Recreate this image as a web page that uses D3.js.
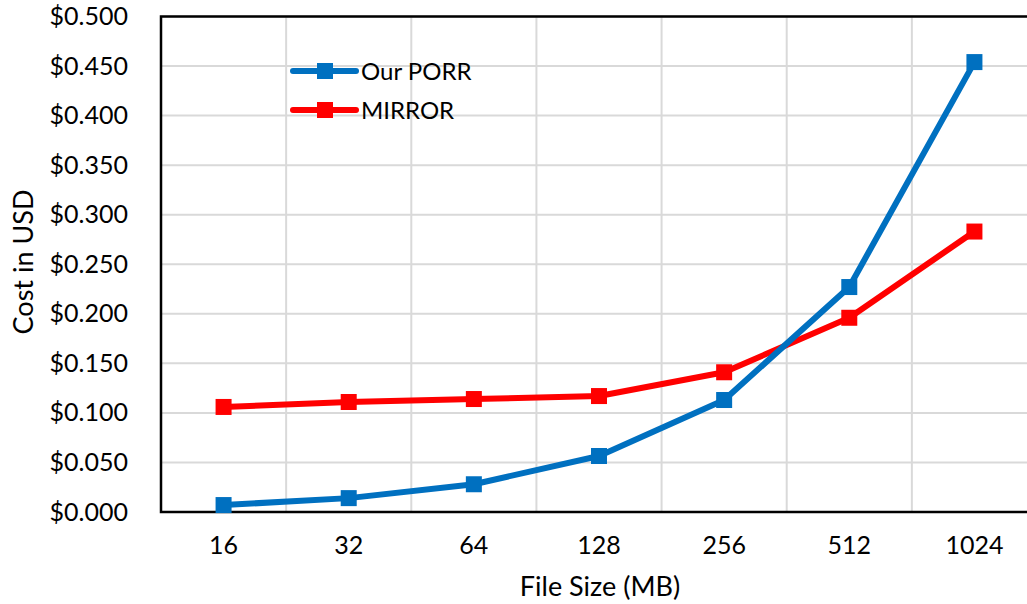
<!DOCTYPE html>
<html>
<head>
<meta charset="utf-8">
<script src="https://cdn.jsdelivr.net/npm/d3@7"></script>
<style>
  html, body { margin: 0; padding: 0; background: #fff; }
  svg { display: block; font-family: Lato, "Open Sans", sans-serif; }
</style>
</head>
<body>
<svg id="chart" width="1027" height="604"></svg>
<script>
// File sizes (MB) on the x axis
const categories = ["16", "32", "64", "128", "256", "512", "1024"];
// Cost in USD per file size
const porrValues = [0.007, 0.014, 0.028, 0.0565, 0.113, 0.227, 0.454];
const mirrorValues = [0.106, 0.111, 0.114, 0.117, 0.141, 0.196, 0.283];
const yTicks = [0, 0.05, 0.1, 0.15, 0.2, 0.25, 0.3, 0.35, 0.4, 0.45, 0.5];
const seriesNames = ["Our PORR", "MIRROR"];
const seriesColors = ["#0070C0", "#FF0000"];

const svg = d3.select("#chart");
const margin = { left: 161, top: 16.5, bottom: 92 };
const plotW = 876; // runs past the right edge of the canvas
const plotH = 604 - margin.top - margin.bottom;

const x = d3.scaleBand().domain(categories).range([margin.left, margin.left + plotW]);
const y = d3.scaleLinear().domain([0, 0.5]).range([margin.top + plotH, margin.top]);

// gridlines
const grid = svg.append("g");
grid.selectAll("line.h").data(yTicks.slice(1)).join("line")
  .attr("x1", margin.left).attr("x2", margin.left + plotW)
  .attr("y1", d => y(d)).attr("y2", d => y(d))
  .attr("stroke", "#d9d9d9").attr("stroke-width", 2);
grid.selectAll("line.v").data(categories.slice(1)).join("line")
  .attr("x1", d => x(d)).attr("x2", d => x(d))
  .attr("y1", margin.top).attr("y2", margin.top + plotH)
  .attr("stroke", "#d9d9d9").attr("stroke-width", 2);

// frame: top, left and bottom edges
svg.append("path")
  .attr("d", `M${margin.left + plotW},${margin.top}H${margin.left}V${margin.top + plotH}H${margin.left + plotW}`)
  .attr("fill", "none").attr("stroke", "#000").attr("stroke-width", 2.5);

// y axis labels
const yAxis = d3.axisLeft(y).tickValues(yTicks).tickSize(0).tickPadding(33)
  .tickFormat(d => "$" + d3.format(".3f")(d));
const gy = svg.append("g").attr("transform", `translate(${margin.left},0)`).call(yAxis);
gy.select(".domain").remove();
gy.selectAll("text").attr("font-size", 25).attr("fill", "#000")
  .attr("font-family", "Lato, sans-serif");

// x axis labels
const xAxis = d3.axisBottom(x).tickSize(0).tickPadding(24);
const gx = svg.append("g").attr("transform", `translate(0,${margin.top + plotH})`).call(xAxis);
gx.select(".domain").remove();
gx.selectAll("text").attr("font-size", 25).attr("fill", "#000")
  .attr("font-family", "Lato, sans-serif");

// axis titles
svg.append("text").attr("x", 600).attr("y", 596)
  .attr("text-anchor", "middle").attr("font-size", 27).text("File Size (MB)");
svg.append("text").attr("transform", `translate(33,${262}) rotate(-90)`)
  .attr("text-anchor", "middle").attr("font-size", 27).text("Cost in USD");

// series
const cx = d => x(d) + x.bandwidth() / 2;
const series = [porrValues, mirrorValues];
const line = d3.line().x((d, i) => cx(categories[i])).y(d => y(d));
// draw MIRROR first so PORR sits on top
[1, 0].forEach(s => {
  const g = svg.append("g");
  g.append("path").datum(series[s]).attr("d", line)
    .attr("fill", "none").attr("stroke", seriesColors[s]).attr("stroke-width", 6)
    .attr("stroke-linejoin", "round");
  g.selectAll("rect").data(series[s]).join("rect")
    .attr("x", (d, i) => cx(categories[i]) - 8).attr("y", d => y(d) - 8)
    .attr("width", 16).attr("height", 16).attr("fill", seriesColors[s]);
});

// legend
const legend = svg.append("g");
seriesNames.forEach((name, i) => {
  const ly = 71 + i * 39;
  legend.append("line").attr("x1", 293).attr("x2", 356).attr("y1", ly).attr("y2", ly)
    .attr("stroke", seriesColors[i]).attr("stroke-width", 6).attr("stroke-linecap", "round");
  legend.append("rect").attr("x", 317).attr("y", ly - 8).attr("width", 16).attr("height", 16)
    .attr("fill", seriesColors[i]);
  legend.append("text").attr("x", 361).attr("y", ly + 9)
    .attr("font-size", 24).text(name);
});
</script>
</body>
</html>
